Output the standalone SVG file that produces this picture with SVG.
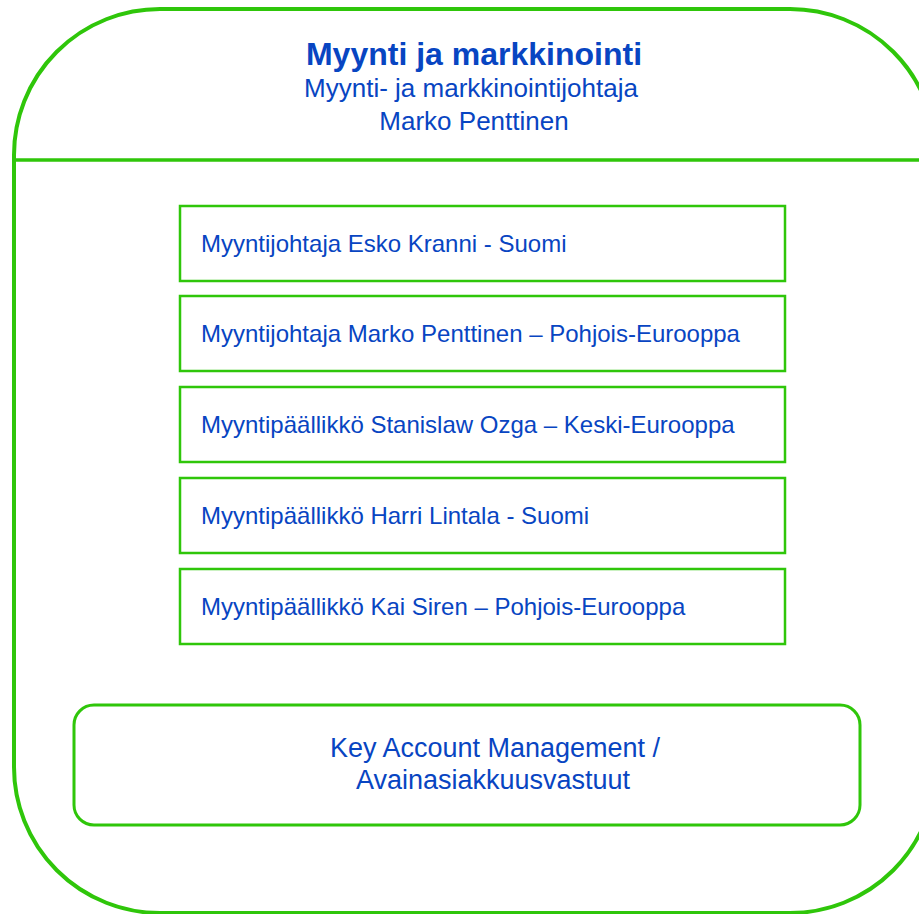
<svg xmlns="http://www.w3.org/2000/svg" width="919" height="914" viewBox="0 0 919 914">
<style>
  .frame { fill: none; stroke: #2fc60a; stroke-width: 4; }
  .box { fill: #ffffff; stroke: #2fc60a; stroke-width: 2.5; }
  .t { font-family: "Liberation Sans", Arial, sans-serif; fill: #0845c2; }
  .title { font-size: 32px; font-weight: bold; text-anchor: middle; }
  .sub { font-size: 26px; text-anchor: middle; }
  .item { font-size: 24px; }
  .kam { font-size: 27px; text-anchor: middle; }
</style>
<rect width="919" height="914" fill="#ffffff"/>
<g id="unit">
  <rect class="frame" x="14" y="9" width="922" height="904" rx="146" ry="146"/>
  <line class="frame" x1="14" y1="160" x2="919" y2="160" style="stroke-width:3.5"/>
  <text class="t title" x="474" y="65">Myynti ja markkinointi</text>
  <text class="t sub" x="471" y="97">Myynti- ja markkinointijohtaja</text>
  <text class="t sub" x="474" y="130">Marko Penttinen</text>
</g>
<g id="connectors"></g>
<g id="n1">
  <rect class="box" x="180" y="206" width="605" height="75"/>
  <text class="t item" x="201" y="252">Myyntijohtaja Esko Kranni - Suomi</text>
</g>
<g id="n2">
  <rect class="box" x="180" y="296" width="605" height="75"/>
  <text class="t item" x="201" y="342">Myyntijohtaja Marko Penttinen – Pohjois-Eurooppa</text>
</g>
<g id="n3">
  <rect class="box" x="180" y="387" width="605" height="75"/>
  <text class="t item" x="201" y="433">Myyntipäällikkö Stanislaw Ozga – Keski-Eurooppa</text>
</g>
<g id="n4">
  <rect class="box" x="180" y="478" width="605" height="75"/>
  <text class="t item" x="201" y="524">Myyntipäällikkö Harri Lintala - Suomi</text>
</g>
<g id="n5">
  <rect class="box" x="180" y="569" width="605" height="75"/>
  <text class="t item" x="201" y="615">Myyntipäällikkö Kai Siren – Pohjois-Eurooppa</text>
</g>
<g id="kam">
  <rect class="box" x="74" y="705" width="786" height="120" rx="20" ry="20" style="stroke-width:3"/>
  <text class="t kam" x="495" y="757">Key Account Management /</text>
  <text class="t kam" x="493" y="789">Avainasiakkuusvastuut</text>
</g>
</svg>
